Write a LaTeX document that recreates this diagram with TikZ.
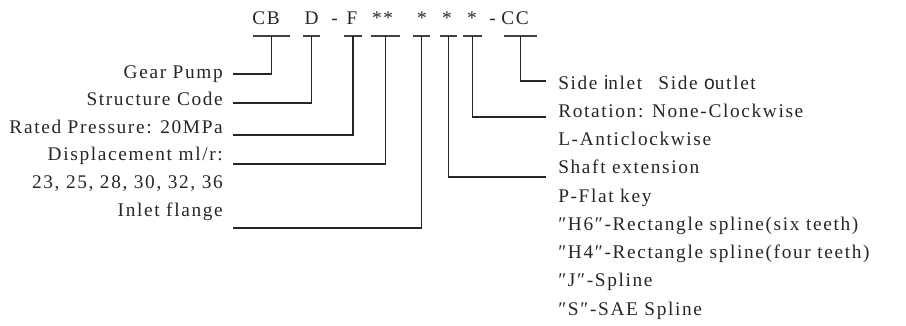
\documentclass[tikz,border=0pt]{standalone}
\usepackage{fontspec}
\setmainfont{Liberation Serif}[LetterSpace=8.5]
\setsansfont{Liberation Sans}
\usetikzlibrary{positioning}

\begin{document}
\begin{tikzpicture}[x=0.75pt, y=-0.75pt,
    txt/.style={font=\fontsize{14.5}{17}\selectfont, text=black!85, inner sep=0pt},
    lbl/.style={txt, anchor=base east},
    opt/.style={txt, anchor=base west},
    uline/.style={black!75, line width=0.8pt},
    link/.style={black!85, line width=0.8pt}]
  \useasboundingbox (0,0) rectangle (906,325);

  \foreach \name/\code/\xt/\xa/\xb in {pump/CB/266/253/290, struct/D/311.5/303/320,
      press/F/352/344/362, displ/**/382.5/371/400, flange/*/422/413/430,
      shaft/*/447/440/457, rot/*/472/463/482, port/CC/515/504/537} {
    \node[txt, anchor=base] (\name) at (\xt,24) {\code};
    \draw[uline] (\xa,36) -- (\xb,36);
    \coordinate (\name-u) at ({(\xa+\xb)/2},36);
  }
  \node[txt, anchor=base] (dash1) at (334.5,24) {-};
  \node[txt, anchor=base] (dash2) at (492.5,24) {-};

  \node[lbl] (pump-txt) at (223,78) {Gear Pump};
  \node[lbl] (struct-txt) at (223,105) {Structure Code};
  \node[lbl] (press-txt) at (223,133) {Rated Pressure: 20MPa};
  \node[lbl] (displ-txt) at (223,160) {Displacement ml/r:};
  \node[lbl] (sizes-txt) at (223,188) {23, 25, 28, 30, 32, 36};
  \node[lbl] (flange-txt) at (223,216) {Inlet flange};

  \node[opt] (port-txt) at (558,89) {Side {\sffamily i}nlet\hspace{0.5em} Side {\sffamily o}utlet};
  \node[opt] (rot-txt) at (558,117.25) {Rotation: None-Clockwise};
  \node[opt] (acw-txt) at (558,145.5) {L-Anticlockwise};
  \node[opt] (shaft-txt) at (558,173.75) {Shaft extension};
  \node[opt] (key-txt) at (558,202) {P-Flat key};
  \node[opt] (h6-txt) at (558,230.25) {″H6″-Rectangle spline(six teeth)};
  \node[opt] (h4-txt) at (558,258.5) {″H4″-Rectangle spline(four teeth)};
  \node[opt] (j-txt) at (558,286.75) {″J″-Spline};
  \node[opt] (s-txt) at (558,315) {″S″-SAE Spline};

  \coordinate (pump-end) at (233,74);
  \coordinate (struct-end) at (233,103);
  \coordinate (press-end) at (233,135);
  \coordinate (displ-end) at (233,164);
  \coordinate (flange-end) at (233,228);
  \coordinate (shaft-end) at (546,177);
  \coordinate (rot-end) at (546,117);
  \coordinate (port-end) at (546,81);

  \foreach \name in {pump, struct, press, displ, flange, shaft, rot, port}
    \draw[link] (\name-u) |- (\name-end);
\end{tikzpicture}
\end{document}
